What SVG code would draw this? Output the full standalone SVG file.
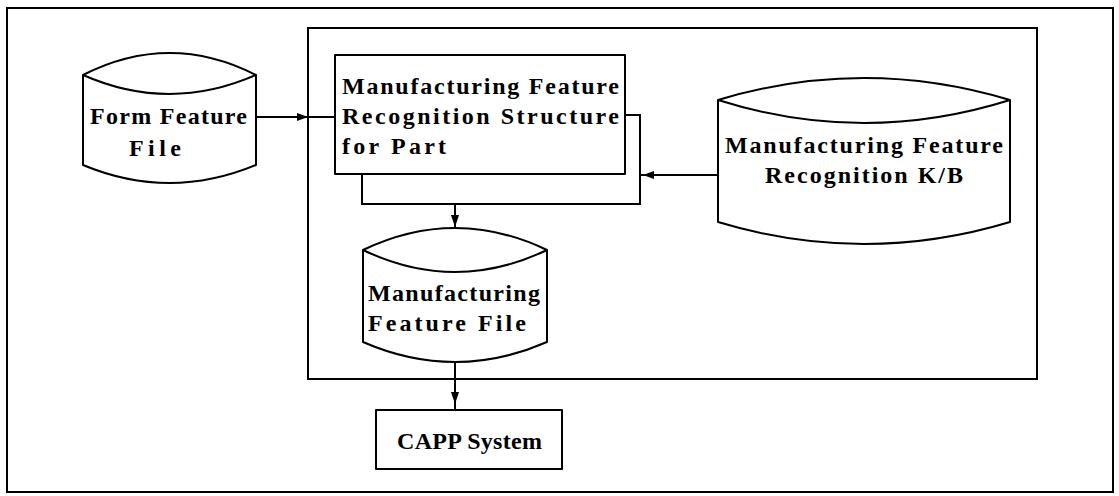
<svg xmlns="http://www.w3.org/2000/svg" width="1119" height="496" viewBox="0 0 1119 496">
  <style>
    .frame { fill: none; stroke: #000; stroke-width: 2; }
    .shape { fill: #fff; stroke: #000; stroke-width: 2; stroke-linejoin: round; }
    .line { fill: none; stroke: #000; stroke-width: 2; }
    .head { fill: #000; stroke: none; }
    .lbl { font-family: "Liberation Serif", "DejaVu Serif", serif; font-weight: bold; font-size: 24px; fill: #000; }
  </style>
  <rect width="1119" height="496" fill="#fff"/>

  <!-- outer border and system boundary -->
  <rect class="frame" x="7" y="8" width="1106" height="484"/>
  <rect class="frame" x="308" y="28" width="729" height="351"/>

  <!-- connectors -->
  <g id="connectors">
    <!-- Form Feature File -> recognition structure -->
    <line class="line" x1="256" y1="117" x2="335" y2="117"/>
    <polygon class="head" points="308,117 297,113 297,121"/>
    <!-- loop around the recognition structure -->
    <polyline class="line" points="625,115 640,115 640,204 362,204 362,174"/>
    <!-- K/B -> recognition structure -->
    <line class="line" x1="718" y1="175" x2="640" y2="175"/>
    <polygon class="head" points="643,175 654,171 654,179"/>
    <!-- structure -> Manufacturing Feature File -->
    <line class="line" x1="455" y1="204" x2="455" y2="228"/>
    <polygon class="head" points="455,227 451,215 459,215"/>
    <!-- Manufacturing Feature File -> CAPP System -->
    <line class="line" x1="455" y1="362" x2="455" y2="410"/>
    <polygon class="head" points="455,404 451,392 459,392"/>
  </g>

  <!-- Form Feature File -->
  <g id="form-feature-file">
    <path class="shape" d="M83,75 L83,165 Q169.5,201 256,165 L256,75 Q169.5,31 83,75 Z"/>
    <path class="line" d="M83,75 Q169.5,113 256,75"/>
    <text class="lbl" x="90" y="124" textLength="157" lengthAdjust="spacing">Form Feature</text>
    <text class="lbl" x="129" y="156" textLength="52" lengthAdjust="spacing">File</text>
  </g>

  <!-- Manufacturing Feature Recognition Structure for Part -->
  <g id="recognition-structure">
    <rect class="shape" x="335" y="55" width="290" height="119"/>
    <text class="lbl" x="342" y="94" textLength="277" lengthAdjust="spacing">Manufacturing Feature</text>
    <text class="lbl" x="342" y="124" textLength="277" lengthAdjust="spacing">Recognition Structure</text>
    <text class="lbl" x="342" y="154" textLength="104" lengthAdjust="spacing">for Part</text>
  </g>

  <!-- Manufacturing Feature Recognition K/B -->
  <g id="recognition-kb">
    <path class="shape" d="M718,100 L718,222 Q864,266 1010,222 L1010,100 Q864,56 718,100 Z"/>
    <path class="line" d="M718,100 Q864,146 1010,100"/>
    <text class="lbl" x="725" y="153" textLength="278" lengthAdjust="spacing">Manufacturing Feature</text>
    <text class="lbl" x="765" y="183" textLength="198" lengthAdjust="spacing">Recognition K/B</text>
  </g>

  <!-- Manufacturing Feature File -->
  <g id="manufacturing-feature-file">
    <path class="shape" d="M363,250 L363,342 Q455,382 547,342 L547,250 Q455,206 363,250 Z"/>
    <path class="line" d="M363,250 Q455,294 547,250"/>
    <text class="lbl" x="368" y="301" textLength="172" lengthAdjust="spacing">Manufacturing</text>
    <text class="lbl" x="368" y="331" textLength="158" lengthAdjust="spacing">Feature File</text>
  </g>

  <!-- CAPP System -->
  <g id="capp-system">
    <rect class="shape" x="376" y="410" width="186" height="59"/>
    <text class="lbl" x="397" y="449" textLength="145" lengthAdjust="spacing">CAPP System</text>
  </g>
</svg>
